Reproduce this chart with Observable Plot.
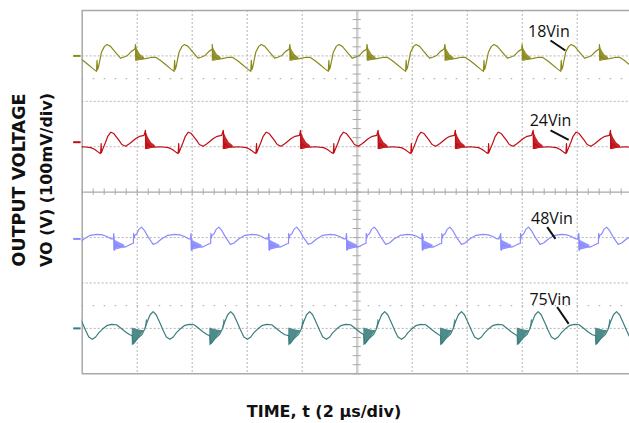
<!DOCTYPE html>
<html><head><meta charset="utf-8">
<script src="https://cdn.jsdelivr.net/npm/d3@7"></script>
<script src="https://cdn.jsdelivr.net/npm/@observablehq/plot@0.6"></script>
<style>body{margin:0;background:#fff}</style>
</head><body><div id="chart"></div>
<script>
// ---- data (time in µs, voltage in mV on a 100 mV/div screen) ----
const traces = ["18Vin", "24Vin", "48Vin", "75Vin"];
const traceColors = ["#8a8a1c", "#c00d14", "#8a8aff", "#3b7e7e"];
const baselines = [300, 100, -103, -302];
const markerLevels = [300, 110, -103, -300];

// start time (switching event) of every cycle
const starts18 = [-0.88, 1.94, 4.73, 7.55, 10.36, 13.19, 16.00, 18.81];
const starts24 = [-0.52, 2.30, 5.13, 7.94, 10.76, 13.57, 16.40, 19.21];
const starts48 = [-1.67, 1.15, 3.96, 6.79, 9.61, 12.36, 15.22, 18.06];
const starts75 = [-1.00, 1.82, 4.64, 7.51, 10.24, 13.03, 15.82, 18.67];

// one cycle of each waveform (time after the event, mV about the baseline)
const cycT18 = [0, 0.03, 0.07, 0.18, 0.36, 0.60, 0.73, 0.91, 1.09, 1.27, 1.40, 1.42, 1.44, 1.47, 1.58, 1.69, 1.78, 1.91, 2.09, 2.27, 2.38, 2.53, 2.67, 2.80];
const cycV18 = [25, -6, -1, -7, -6, -3, -3, -10, -19, -28, -34, -10, -30, -25, 8, 21, 25, 21, 8, -5, -3, 1, 10, 15];
const ringT18 = [0, 0.07, 0.18, 0.33];
const ringHi18 = [25, 14, 3, -4];
const ringLo18 = [-12, -12, -10, -8];

const cycT24 = [0, 0.025, 0.07, 0.18, 0.36, 0.55, 0.84, 0.98, 1.13, 1.19, 1.21, 1.22, 1.25, 1.37, 1.45, 1.56, 1.67, 1.86, 1.96, 2.10, 2.25, 2.47, 2.61, 2.77];
const cycV24 = [36, -4, 7, 0, -1, 0, -2, -6, -13, -15, 7, -13, -8, 10, 23, 32, 29, 14, 5, 1, 7, 18, 23, 25];
const ringT24 = [0, 0.11, 0.22, 0.36];
const ringHi24 = [36, 20, 9, 2];
const ringLo24 = [-6, -6, -4, -2];

const cycT48 = [0, 0.02, 0.07, 0.22, 0.40, 0.51, 0.64, 0.71, 0.72, 0.73, 0.76, 0.83, 0.91, 1.01, 1.11, 1.25, 1.43, 1.56, 1.73, 1.96, 2.22, 2.40, 2.55, 2.73, 2.80];
const cycV48 = [12, -25, -12, -17, -18, -15, -11, -10, 12, 1, 8, 11, 21, 26, 19, 4, -12, -9, 0, 8, 10, 9, 6, 0, 0];
const ringT48 = [0, 0.04, 0.20, 0.40];
const ringHi48 = [12, -3, -8, -14];
const ringLo48 = [-26, -25, -23, -19];

const cycT75 = [0, 0.04, 0.18, 0.36, 0.45, 0.56, 0.65, 0.76, 0.87, 1.00, 1.13, 1.24, 1.37, 1.49, 1.60, 1.73, 1.89, 2.07, 2.25, 2.40, 2.58, 2.73];
const cycV75 = [-14, -32, -21, -11, 0, 19, 32, 39, 32, 15, -3, -17, -22, -17, -8, 0, 8, 11, 10, 3, -6, -12];
const ringT75 = [0, 0.15, 0.30, 0.44, 0.47, 0.52, 0.56];
const ringHi75 = [3, 0, -2, -3, 2, 22, 19];
const ringLo75 = [-37, -27, -15, -4, -2, 5, 17];

// labels and leader lines
const labelT = [16.97, 17.03, 17.08, 17.02];
const labelV = [352, 158, -58, -237];
const leadT1 = [17.03, 17.03, 16.91, 17.27];
const leadV1 = [334, 136, -77, -253];
const leadT2 = [17.57, 17.69, 17.21, 17.69];
const leadV2 = [312, 115, -103, -290];

// screen grid
const gridTimes = [2, 4, 6, 8, 12, 14, 16, 18];
const gridLevels = [-300, -200, -100, 100, 200, 300];
const halfLevels = [250, -250];
const minorTimes = d3.range(0, 20.01, 0.4);
const minorLevels = d3.range(-400, 400.1, 20);

// ---- build tables ----
const starts = [starts18, starts24, starts48, starts75];
const cycT = [cycT18, cycT24, cycT48, cycT75];
const cycV = [cycV18, cycV24, cycV48, cycV75];
const ringT = [ringT18, ringT24, ringT48, ringT75];
const ringHi = [ringHi18, ringHi24, ringHi48, ringHi75];
const ringLo = [ringLo18, ringLo24, ringLo48, ringLo75];

const lineRows = [], ringRows = [];
traces.forEach((name, k) => {
  starts[k].forEach((s, c) => {
    cycT[k].forEach((dt, i) => lineRows.push({trace: name, t: s + dt, v: baselines[k] + cycV[k][i]}));
    const splitAt = k === 3 ? 4 : ringT[k].length;
    ringT[k].forEach((dt, i) => ringRows.push({
      trace: name, id: name + c + (i < splitAt ? "a" : "b"),
      t: s + dt, hi: baselines[k] + ringHi[k][i], lo: baselines[k] + ringLo[k][i]
    }));
  });
});
const labels = traces.map((name, k) => ({name, t: labelT[k], v: labelV[k], t1: leadT1[k], v1: leadV1[k], t2: leadT2[k], v2: leadV2[k]}));
const markers = traces.map((name, k) => ({name, v: markerLevels[k]}));
const colorOf = Object.fromEntries(traces.map((n, k) => [n, traceColors[k]]));

const gridColor = "#b4b4b4";
const chart = Plot.plot({
  width: 629, height: 423,
  marginLeft: 81.7, marginRight: 0, marginTop: 10, marginBottom: 49.7,
  x: {domain: [0, 20], range: [81.7, 631.7], axis: null},
  y: {domain: [-400, 400], range: [373.3, 10], axis: null},
  marks: [
    Plot.ruleX(gridTimes, {stroke: gridColor, strokeDasharray: "2,2", strokeWidth: 1}),
    Plot.ruleY(gridLevels, {stroke: gridColor, strokeDasharray: "2,2", strokeWidth: 1}),
    Plot.ruleY(halfLevels, {stroke: gridColor, strokeDasharray: "1.5,9.5", strokeWidth: 1.2}),
    Plot.ruleX([10], {stroke: "#d0d0d0", strokeWidth: 2.5}),
    Plot.ruleY([0], {stroke: "#aaaaaa", strokeWidth: 1.2}),
    Plot.ruleX(minorTimes, {x: d => d, y1: d => -7, y2: d => 7, stroke: "#aaaaaa", strokeWidth: 1}),
    Plot.ruleY(minorLevels, {y: d => d, x1: d => 9.85, x2: d => 10.15, stroke: "#aaaaaa", strokeWidth: 1}),
    Plot.ruleY([-400, 400], {stroke: "#a8a8a8", strokeWidth: 1.5}),
    Plot.ruleX([0], {stroke: "#a8a8a8", strokeWidth: 1.5}),
    Plot.ruleY(markers, {y: "v", x1: d => -0.31, x2: d => -0.04, stroke: d => colorOf[d.name], strokeWidth: 2}),
    Plot.area(ringRows, {x1: "t", y1: "lo", y2: "hi", z: "id", fill: d => colorOf[d.trace], fillOpacity: 0.9, clip: true}),
    Plot.line(lineRows, {x: "t", y: "v", z: "trace", stroke: d => colorOf[d.trace], strokeWidth: 1.2, clip: true}),
    Plot.link(labels, {x1: "t1", y1: "v1", x2: "t2", y2: "v2", stroke: "#111", strokeWidth: 2}),
    Plot.text(labels, {x: "t", y: "v", text: "name", fontSize: 16, fontFamily: "Open Sans", fill: "#111"})
  ]
});
document.getElementById("chart").appendChild(chart);

const svg = d3.select(chart);
svg.append("text").attr("x", 324).attr("y", 417).attr("text-anchor", "middle")
  .attr("font-family", "DejaVu Sans").attr("font-weight", "bold").attr("font-size", 16).attr("fill", "#111")
  .text("TIME, t (2 µs/div)");
const yl = svg.append("g").attr("transform", "translate(0,180) rotate(-90)")
  .attr("font-family", "DejaVu Sans").attr("font-weight", "bold").attr("fill", "#111").attr("text-anchor", "middle");
yl.append("text").attr("x", 0).attr("y", 25).attr("font-size", 17.5).text("OUTPUT VOLTAGE");
yl.append("text").attr("x", 0).attr("y", 52).attr("font-size", 16).text("VO (V) (100mV/div)");
</script></body></html>
